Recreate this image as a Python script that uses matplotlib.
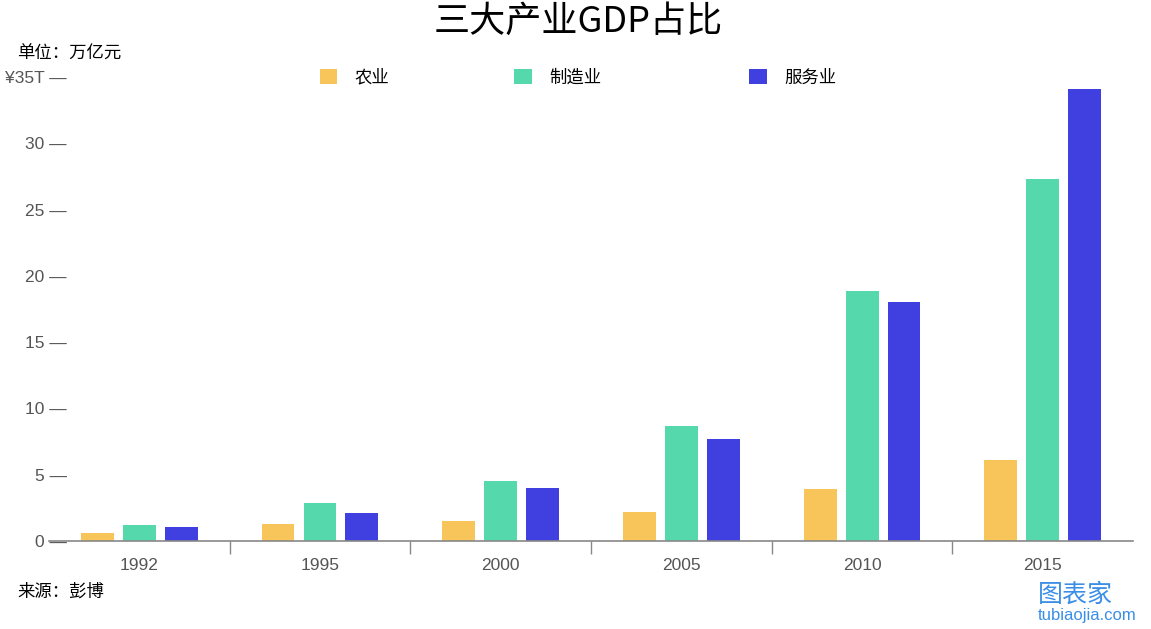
import numpy as np
import matplotlib.pyplot as plt

plt.rcParams['font.family'] = ['Noto Sans CJK SC', 'DejaVu Sans']

years = ['1992', '1995', '2000', '2005', '2010', '2015']
series = ['农业', '制造业', '服务业']
agri = [0.6, 1.28, 1.5, 2.2, 3.9, 6.1]
manu = [1.2, 2.87, 4.5, 8.7, 18.85, 27.3]
serv = [1.05, 2.1, 4.0, 7.7, 18.0, 34.1]
colors = ['#F8C55A', '#55D9AC', '#4040E0']
yticks = [0, 5, 10, 15, 20, 25, 30, 35]
ytick_labels = ['0', '5', '10', '15', '20', '25', '30', '¥35T']

fig = plt.figure(figsize=(11.51, 6.29), dpi=100)
ax = fig.add_axes([0.0425, 0.14, 0.942, 0.7377])

x = np.arange(len(years))
width = 0.182
offset = 0.232
bars = []
for i, (vals, name, c) in enumerate(zip([agri, manu, serv], series, colors)):
    b = ax.bar(x + (i - 1) * offset, vals, width, color=c, label=name, zorder=2)
    bars.append(b)

ax.set_xlim(-0.5, len(years) - 0.5)
ax.set_ylim(0, 35)

for s in ['top', 'right', 'left']:
    ax.spines[s].set_visible(False)
ax.spines['bottom'].set_color('#888888')
ax.spines['bottom'].set_linewidth(1.2)

tick_font = ['Liberation Sans', 'DejaVu Sans']
ax.set_yticks(yticks)
ax.set_yticklabels([t + ' \u2014' for t in ytick_labels], family=tick_font)
ax.tick_params(axis='y', length=0, labelcolor='#555555', labelsize=12.5, pad=-13)
for lab in ax.get_yticklabels():
    lab.set_horizontalalignment('right')

ax.set_xticks(x)
ax.set_xticklabels(years, family=tick_font)
ax.set_xticks(x[:-1] + 0.5, minor=True)
ax.tick_params(axis='x', which='major', length=0, labelcolor='#555555',
               labelsize=12.5, pad=12)
ax.tick_params(axis='x', which='minor', direction='out', length=9, width=1,
               color='#888888')

# legend entries placed one by one, as in the original
leg_x = [0.278, 0.447, 0.651]
for b, name, lx in zip(bars, series, leg_x):
    fig.legend([b], [name], loc='center left', bbox_to_anchor=(lx, 0.877),
               frameon=False, fontsize=12.5, handlelength=1.0, handleheight=1.0,
               handletextpad=1.0, borderpad=0, borderaxespad=0)

fig.text(0.502, 0.966, '三大产业GDP占比', ha='center', va='center', fontsize=26, color='black')
fig.text(0.015, 0.914, '单位：万亿元', ha='left', va='center', fontsize=12.5, color='black')
fig.text(0.015, 0.059, '来源：彭博', ha='left', va='center', fontsize=12.5, color='black')
fig.text(0.902, 0.055, '图表家', ha='left', va='center', fontsize=18, color='#3A8EE6')
fig.text(0.902, 0.022, 'tubiaojia.com', ha='left', va='center', fontsize=12,
         color='#3A8EE6', family=tick_font)

fig.savefig('out.png', dpi=100)
